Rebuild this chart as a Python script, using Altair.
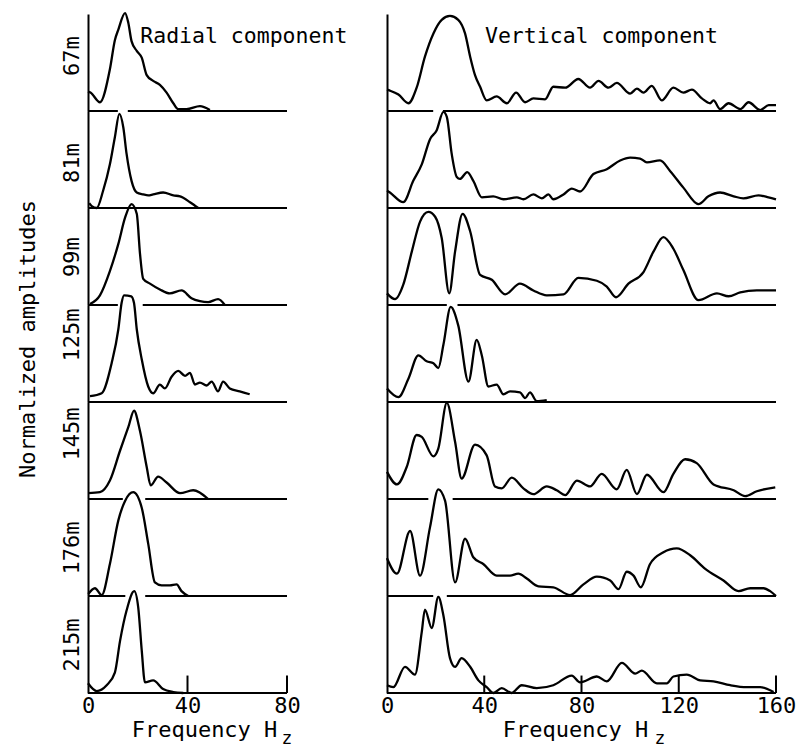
import altair as alt
import pandas as pd

FONT = "DejaVu Sans Mono"

DEPTHS = ["67m", "81m", "99m", "125m", "145m", "176m", "215m"]

# ---------------- Radial component (0-80 Hz) ----------------
R67_F = [0, 1, 4.8, 8.8, 10.8, 12.2, 14.9, 16.2, 17.5, 19.6, 21.6, 23.6, 26.2, 28.9, 31.6, 34.3, 36.3, 39.6, 45, 49]
R67_A = [0.2, 0.19, 0.09, 0.43, 0.73, 0.84, 1.01, 0.91, 0.72, 0.62, 0.55, 0.37, 0.31, 0.27, 0.19, 0.08, 0.02, 0.02, 0.05, 0.01]
R81_F = [0.5, 1.5, 3.5, 6.1, 8.8, 10.8, 12.6, 14.2, 15.5, 17.5, 19.6, 22.2, 24.2, 26.2, 30.2, 34.3, 37, 41, 44.3]
R81_A = [0.05, 0.02, 0, 0.18, 0.45, 0.73, 0.97, 0.83, 0.56, 0.28, 0.16, 0.14, 0.13, 0.14, 0.16, 0.13, 0.12, 0.06, 0]
R99_F = [0.8, 4.8, 8.8, 12.2, 14.9, 17.5, 19.6, 20.9, 22.2, 24.9, 28.9, 32.9, 37.6, 41.6, 45, 48.3, 52.3, 55]
R99_A = [0.01, 0.1, 0.35, 0.63, 0.9, 1.04, 0.94, 0.53, 0.27, 0.22, 0.16, 0.12, 0.15, 0.07, 0.04, 0.03, 0.06, 0]
R125_F = [0.8, 5.5, 9.5, 12.2, 13.5, 14.5, 17.4, 18.5, 19.6, 21.6, 24.2, 26.2, 28.9, 30.9, 33.6, 36.3, 39, 41, 43, 45, 47.7, 49.7, 52.3, 54.3, 57, 61, 65]
R125_A = [0.06, 0.09, 0.4, 0.75, 1.02, 1.1, 1.09, 1.02, 0.75, 0.44, 0.16, 0.09, 0.18, 0.14, 0.26, 0.32, 0.27, 0.3, 0.18, 0.2, 0.17, 0.21, 0.11, 0.21, 0.14, 0.11, 0.08]
R145_F = [0.1, 4.8, 8.8, 12.9, 16.2, 18.5, 20.9, 23.6, 25.2, 28.2, 31.6, 37, 42.3, 48.3]
R145_A = [0.06, 0.07, 0.19, 0.5, 0.74, 0.91, 0.7, 0.33, 0.14, 0.23, 0.17, 0.06, 0.09, 0]
R176_F = [0.1, 2.8, 5.5, 8.8, 12.2, 14.9, 18.2, 21.6, 24.2, 26.9, 29.6, 32.9, 35.6, 37.6, 40.3]
R176_A = [0.02, 0.08, 0.01, 0.33, 0.78, 0.98, 1.07, 0.91, 0.54, 0.14, 0.11, 0.11, 0.12, 0.05, 0]
R215_F = [0, 3.5, 7.5, 10.8, 12.9, 15.5, 18.6, 20.2, 21.6, 22.9, 26.2, 30.2, 34.3, 38.3]
R215_A = [0.1, 0.02, 0.08, 0.21, 0.54, 0.85, 1.05, 0.88, 0.44, 0.11, 0.13, 0.04, 0.01, 0]

# ---------------- Vertical component (0-160 Hz) ----------------
V67_F = [0, 1.2, 4.7, 8.8, 12.2, 15.6, 19.1, 22.5, 25.9, 29.3, 32.1, 34.2, 36.2, 38.3, 41, 45.1, 49.3, 53.1, 56.8, 60.2, 65, 68.4, 73.3, 78.7, 83.5, 87, 91.1, 94.5, 100, 102.8, 105.5, 108.9, 113, 117.8, 121.9, 125.4, 129.5, 132.9, 134.3, 137, 140.5, 145.3, 148.7, 153.5, 157, 160]
V67_A = [0.22, 0.21, 0.17, 0.08, 0.24, 0.56, 0.8, 0.94, 0.98, 0.94, 0.8, 0.56, 0.37, 0.25, 0.11, 0.15, 0.08, 0.19, 0.09, 0.13, 0.12, 0.25, 0.24, 0.33, 0.24, 0.31, 0.24, 0.29, 0.18, 0.23, 0.19, 0.26, 0.11, 0.24, 0.19, 0.22, 0.13, 0.08, 0.11, 0.02, 0.08, 0.02, 0.09, 0.01, 0.06, 0.06]
V81_F = [0, 1.2, 6.7, 10.8, 14.3, 17.7, 20.4, 23.2, 24.6, 26.6, 28.7, 30, 33, 35.5, 39, 43.7, 47.9, 53.4, 56.1, 60.2, 63.7, 66.4, 68.4, 72.6, 76, 79.4, 84.9, 90.4, 95.9, 100, 104.1, 106.9, 112.3, 116.5, 121.9, 128.1, 132.2, 137, 142.6, 146.6, 152.8, 156.9, 160]
V81_A = [0.18, 0.16, 0.06, 0.28, 0.45, 0.71, 0.8, 0.99, 0.94, 0.56, 0.32, 0.3, 0.37, 0.28, 0.11, 0.12, 0.09, 0.11, 0.09, 0.14, 0.1, 0.14, 0.09, 0.14, 0.2, 0.17, 0.35, 0.4, 0.49, 0.52, 0.51, 0.47, 0.49, 0.38, 0.21, 0.04, 0.12, 0.16, 0.12, 0.1, 0.13, 0.11, 0.09]
V99_F = [0, 3.3, 6.7, 10.2, 13.6, 17, 19.8, 22.5, 25.6, 28, 31.1, 34.2, 38.3, 43.1, 48.6, 54.7, 60.2, 65.7, 72.6, 78.7, 86.3, 90.4, 94.2, 99.3, 105.5, 109.6, 113.7, 117.8, 121.9, 128.1, 135.7, 140.5, 145.3, 152.1, 160]
V99_A = [0.12, 0.06, 0.21, 0.55, 0.86, 0.96, 0.91, 0.69, 0.12, 0.55, 0.94, 0.76, 0.31, 0.26, 0.11, 0.22, 0.15, 0.1, 0.11, 0.28, 0.25, 0.19, 0.08, 0.22, 0.34, 0.55, 0.7, 0.58, 0.36, 0.05, 0.12, 0.09, 0.13, 0.15, 0.15]
V125_F = [0, 4.7, 8.8, 12.9, 16.3, 19.1, 21.1, 23.2, 26.2, 29.3, 33.5, 36.9, 39, 41.7, 45.1, 47.9, 50.6, 54.7, 56.8, 58.8, 61.6, 65.7]
V125_A = [0.14, 0.05, 0.24, 0.48, 0.42, 0.4, 0.35, 0.59, 0.98, 0.79, 0.21, 0.64, 0.48, 0.16, 0.18, 0.08, 0.11, 0.1, 0.04, 0.1, 0.01, 0.02]
V145_F = [0, 4.1, 8.1, 12.2, 14.3, 19.1, 21.1, 24.6, 28, 30.7, 36.2, 41, 44.4, 47.2, 51.3, 56.1, 60.2, 65.7, 69.8, 73.3, 78.1, 83.5, 88.3, 94.5, 98.6, 102.8, 106.9, 113.7, 117.8, 122.6, 127.4, 134.3, 142.6, 147.3, 152.1, 159.7]
V145_A = [0.28, 0.15, 0.33, 0.66, 0.64, 0.44, 0.52, 0.99, 0.59, 0.21, 0.56, 0.45, 0.13, 0.11, 0.22, 0.11, 0.05, 0.13, 0.09, 0.04, 0.19, 0.13, 0.26, 0.1, 0.3, 0.05, 0.25, 0.07, 0.26, 0.41, 0.37, 0.15, 0.09, 0.03, 0.08, 0.12]
V176_F = [0, 4.1, 9.5, 13.6, 17.7, 21.1, 23.9, 28, 32.1, 35.5, 39.6, 45.1, 50.6, 54, 57.5, 62.3, 68.4, 75.3, 80.8, 86.3, 91.8, 95.2, 98.6, 101.4, 104.4, 108.2, 113.7, 119.2, 124.7, 130.9, 138.4, 144.6, 149.4, 154.9, 157.6, 160]
V176_A = [0.39, 0.23, 0.67, 0.21, 0.71, 1.1, 0.98, 0.14, 0.59, 0.4, 0.33, 0.21, 0.21, 0.23, 0.18, 0.1, 0.09, 0.01, 0.12, 0.2, 0.16, 0.07, 0.25, 0.21, 0.09, 0.33, 0.45, 0.49, 0.42, 0.28, 0.16, 0.05, 0.08, 0.08, 0.05, 0]
V215_F = [0, 2.6, 7.4, 11.5, 14.3, 15.6, 18.4, 21.1, 23.2, 25.9, 28, 30.7, 34.2, 37.6, 41, 43.7, 47.2, 51.3, 55.4, 61.6, 68.4, 76, 79.4, 86.3, 90.4, 96.6, 102.1, 104.8, 111, 115.1, 117.8, 123.3, 128.8, 134.3, 141.2, 148, 153.5, 159]
V215_A = [0.08, 0.06, 0.27, 0.19, 0.63, 0.86, 0.67, 0.99, 0.8, 0.36, 0.27, 0.36, 0.27, 0.13, 0.06, 0, 0.05, 0, 0.08, 0.05, 0.08, 0.18, 0.11, 0.17, 0.12, 0.31, 0.2, 0.23, 0.1, 0.1, 0.17, 0.19, 0.13, 0.12, 0.08, 0.06, 0.06, 0.01]

# breaks in each baseline (Hz) where the curve below crosses it
RADIAL_GAPS = {"67m": (12, 16), "99m": (12, 22), "145m": (14, 23), "176m": (15, 23)}
VERTICAL_GAPS = {"67m": (19, 23), "99m": (24.6, 29), "145m": (17, 27), "176m": (19, 24.6)}

RADIAL_TICKS = [0, 40, 80]
VERTICAL_TICKS = [0, 40, 80, 120, 160]
RADIAL_INNER_TICKS = [40, 80]
VERTICAL_INNER_TICKS = [40, 80, 120, 160]

RADIAL = [(R67_F, R67_A), (R81_F, R81_A), (R99_F, R99_A), (R125_F, R125_A),
          (R145_F, R145_A), (R176_F, R176_A), (R215_F, R215_A)]
VERTICAL = [(V67_F, V67_A), (V81_F, V81_A), (V99_F, V99_A), (V125_F, V125_A),
            (V145_F, V145_A), (V176_F, V176_A), (V215_F, V215_A)]

LABEL_DY = {"67m": -7, "81m": 3, "125m": -19, "145m": -17}

PANEL_H = 97
FS = 22


def panel(freqs, amps, xmax, width, depth, show_label, gaps, bottom,
          tick_vals, inner_ticks, comp_title, comp_x, title_x, z_x):
    df = pd.DataFrame({"f": freqs, "a": amps})
    xs = alt.Scale(domain=[0, xmax], nice=False, zero=False)
    ys = alt.Scale(domain=[0, 1], nice=False, zero=False)
    if bottom:
        xaxis = alt.Axis(values=tick_vals, title="Frequency H", labelFlush=False,
                         domain=False, ticks=False, labelPadding=2, titlePadding=3,
                         labelFontSize=FS, titleFontSize=22, titleX=title_x,
                         labelOverlap=False, grid=False)
    else:
        xaxis = None
    if show_label:
        ykw = dict(title=depth, labels=False, ticks=False, grid=False,
                   titlePadding=5, titleFontSize=FS)
        if depth in LABEL_DY:
            ykw["titleY"] = PANEL_H / 2 + LABEL_DY[depth]
        yaxis = alt.Axis(**ykw)
    else:
        yaxis = alt.Axis(title=None, labels=False, ticks=False, grid=False)

    line = alt.Chart(df).mark_line(
        interpolate="monotone", color="black", strokeWidth=2.3
    ).encode(
        x=alt.X("f:Q", scale=xs, axis=xaxis),
        y=alt.Y("a:Q", scale=ys, axis=yaxis),
    )

    if gaps is None:
        segs = pd.DataFrame({"s": [0], "e": [xmax]})
    else:
        segs = pd.DataFrame({"s": [0, gaps[1]], "e": [gaps[0], xmax]})
    base = alt.Chart(segs).mark_rule(color="black", strokeWidth=2).encode(
        x=alt.X("s:Q", scale=xs, axis=xaxis),
        x2="e:Q",
        y=alt.YDatum(0, scale=ys, axis=yaxis),
    )
    layers = [line, base]

    if bottom:
        tdf = pd.DataFrame({"t": inner_ticks})
        ticks = alt.Chart(tdf).mark_rule(color="black", strokeWidth=2).encode(
            x=alt.X("t:Q", scale=xs, axis=xaxis),
            y=alt.YDatum(0, scale=ys, axis=yaxis),
            y2=alt.datum(0.18),
        )
        z = alt.Chart(pd.DataFrame({"s": ["z"]})).mark_text(
            font=FONT, fontSize=18, color="black", align="center", baseline="middle"
        ).encode(
            x=alt.XDatum(z_x, scale=xs, axis=xaxis),
            y=alt.YDatum(-0.47, scale=ys, axis=yaxis),
            text="s:N",
        )
        layers += [ticks, z]

    if comp_title:
        t = alt.Chart(pd.DataFrame({"s": [comp_title]})).mark_text(
            font=FONT, fontSize=21.5, color="black", align="left", baseline="middle"
        ).encode(
            x=alt.XDatum(comp_x, scale=xs, axis=xaxis),
            y=alt.YDatum(0.76, scale=ys, axis=yaxis),
            text="s:N",
        )
        layers.append(t)

    return alt.layer(*layers).properties(width=width, height=PANEL_H)


panels = []
for i, d in enumerate(DEPTHS):
    bottom = i == len(DEPTHS) - 1
    rf, ra = RADIAL[i]
    vf, va = VERTICAL[i]
    panels.append(panel(rf, ra, 80, 199, d, True, RADIAL_GAPS.get(d), bottom,
                        RADIAL_TICKS, RADIAL_INNER_TICKS,
                        "Radial component" if i == 0 else None, 21, 116, 80))
    panels.append(panel(vf, va, 160, 389, d, False, VERTICAL_GAPS.get(d), bottom,
                        VERTICAL_TICKS, VERTICAL_INNER_TICKS,
                        "Vertical component" if i == 0 else None, 40.3, 188, 112.3))

chart = alt.concat(
    *panels, columns=2, spacing={"row": 0, "column": 100}, bounds="flush",
    title=alt.Title("Normalized amplitudes", orient="left", anchor="middle",
                    fontSize=22, fontWeight="normal", font=FONT, color="black",
                    offset=20, dx=39),
).properties(
    padding={"left": 16, "top": 8, "right": 5, "bottom": 3}
).configure_view(stroke=None).configure_axis(
    domainColor="black", domainWidth=2, grid=False,
    labelFont=FONT, titleFont=FONT, labelColor="black", titleColor="black",
    titleFontWeight="normal",
)

chart.save("out.html", embed_options={"renderer": "svg", "actions": False})
